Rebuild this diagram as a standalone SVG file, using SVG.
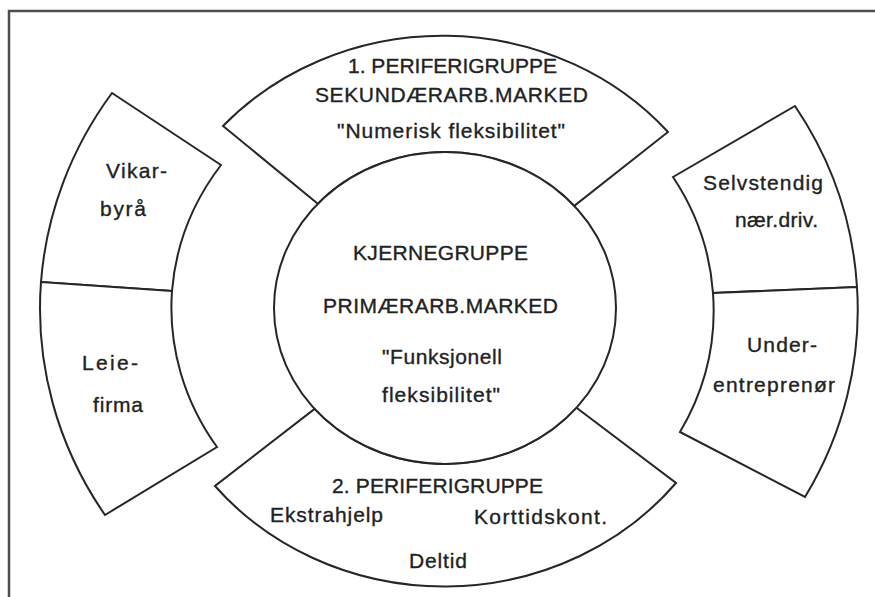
<svg xmlns="http://www.w3.org/2000/svg" width="875" height="597" viewBox="0 0 875 597">
<style>
.shape{fill:#fff;stroke:#262626;stroke-width:2;stroke-linejoin:miter}
.frame{fill:none;stroke:#4d4d4d;stroke-width:2.5}
text{font-family:"Liberation Sans",Arial,Helvetica,sans-serif;font-size:21px;fill:#222;stroke:#222;stroke-width:0.35}
</style>
<rect width="875" height="597" fill="#fff"/>
<path class="frame" d="M9,597 V11 H875"/>
<g id="connectors"></g>
<g id="periferi1">
<path class="shape" d="M317.8,203.7 L223,126 A297 276 0 0 1 668,132 L574.3,205.9 A171 156 0 0 0 317.8,203.7 Z"/>
<text x="348" y="73" textLength="209" lengthAdjust="spacing">1. PERIFERIGRUPPE</text>
<text x="315" y="102" textLength="273" lengthAdjust="spacing">SEKUNDÆRARB.MARKED</text>
<text x="337" y="138" textLength="228" lengthAdjust="spacing">"Numerisk fleksibilitet"</text>
</g>
<g id="periferi2">
<path class="shape" d="M576.5,407.7 L676,483 A297 276 0 0 1 215,486 L314.6,408.9 A171 156 0 0 0 576.5,407.7 Z"/>
<text x="332" y="493" textLength="211" lengthAdjust="spacing">2. PERIFERIGRUPPE</text>
<text x="270" y="522" textLength="113" lengthAdjust="spacing">Ekstrahjelp</text>
<text x="474" y="524" textLength="133" lengthAdjust="spacing">Korttidskont.</text>
<text x="409" y="568" textLength="58" lengthAdjust="spacing">Deltid</text>
</g>
<g id="kjernegruppe">
<ellipse class="shape" cx="445" cy="308" rx="171" ry="156"/>
<text x="353" y="260" textLength="175" lengthAdjust="spacing">KJERNEGRUPPE</text>
<text x="323" y="313" textLength="235" lengthAdjust="spacing">PRIMÆRARB.MARKED</text>
<text x="382" y="364" textLength="120" lengthAdjust="spacing">"Funksjonell</text>
<text x="382" y="402" textLength="118" lengthAdjust="spacing">fleksibilitet"</text>
</g>
<g id="vikarbyra">
<path class="shape" d="M221,165 L112,93 A406 380 0 0 0 41,282 L172,291 A274 252 0 0 1 221,165 Z"/>
<text x="106" y="178" textLength="61" lengthAdjust="spacing">Vikar-</text>
<text x="100" y="216" textLength="46" lengthAdjust="spacing">byrå</text>
</g>
<g id="leiefirma">
<path class="shape" d="M172,291 L41,282 A406 380 0 0 0 105,515 L217,447 A274 252 0 0 1 172,291 Z"/>
<text x="82" y="370" textLength="56" lengthAdjust="spacing">Leie-</text>
<text x="93" y="412" textLength="50" lengthAdjust="spacing">firma</text>
</g>
<g id="selvstendig">
<path class="shape" d="M673,177 L795,106 A412 382 0 0 1 857,287 L713,293 A268 251 0 0 0 673,177 Z"/>
<text x="703" y="190" textLength="120" lengthAdjust="spacing">Selvstendig</text>
<text x="735" y="227" textLength="83" lengthAdjust="spacing">nær.driv.</text>
</g>
<g id="underentreprenor">
<path class="shape" d="M713,293 L857,287 A412 382 0 0 1 805,497 L680,432 A268 251 0 0 0 713,293 Z"/>
<text x="747" y="352" textLength="70" lengthAdjust="spacing">Under-</text>
<text x="713" y="392" textLength="122" lengthAdjust="spacing">entreprenør</text>
</g>
</svg>
